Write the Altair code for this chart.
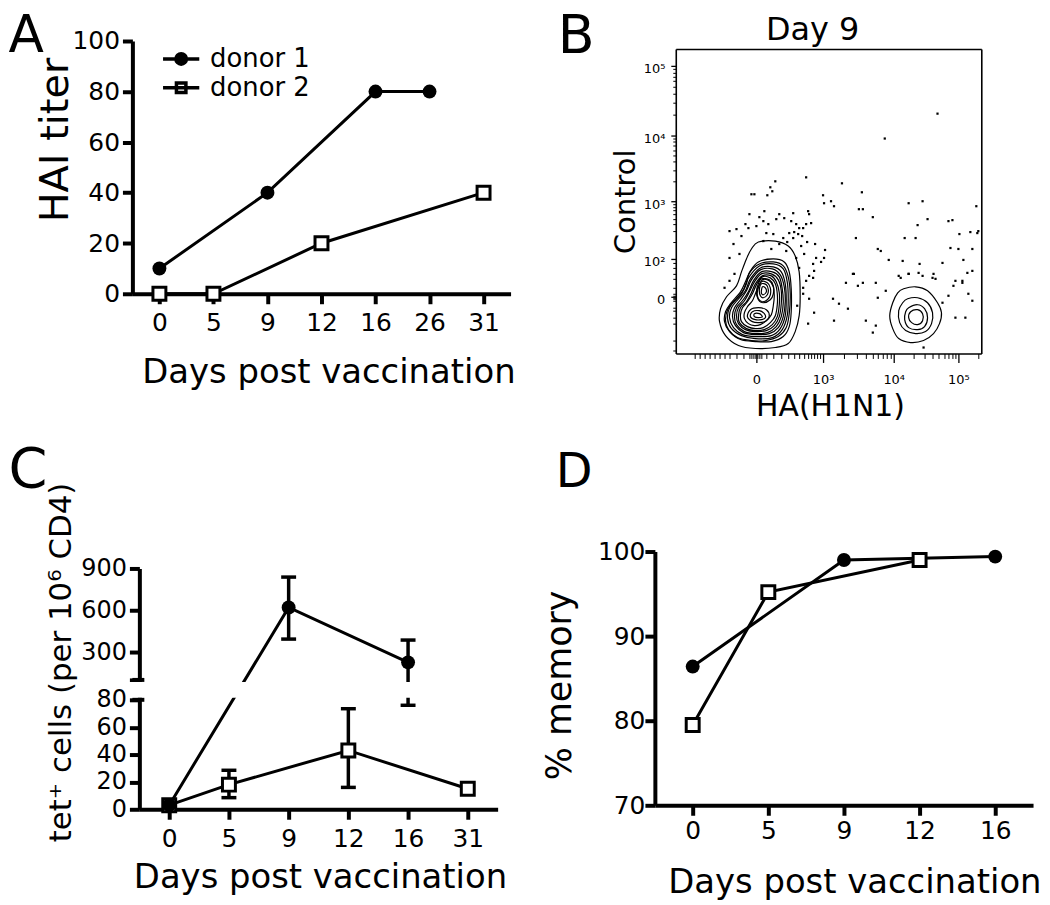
import altair as alt
import pandas as pd

FONT = "DejaVu Sans"
OFF = 8            # page margin; layout numbers below are page pixels
W, H = 1034, 889   # drawing area


def L(v):
    return v - OFF


def lab_expr(vals, labs):
    expr = "''"
    for v, t in reversed(list(zip(vals, labs))):
        expr = f"abs(datum.value - {v}) < 0.01 ? '{t}' : ({expr})"
    return expr


def text_axis(text, size, x, y, orient="top", offset=0, align="left", domain=False):
    return alt.Axis(orient=orient, offset=offset, domain=domain, domainWidth=1.6,
                    ticks=False, labels=False, grid=False, title=text, titleFontSize=size,
                    titleX=x, titleY=y, titleAlign=align, titleAngle=0,
                    titleBaseline="alphabetic")


def thick_axis(orient, offset, title, tfs, tx, ty, angle, lfs=25, lpad=3,
               values=None, expr=None):
    kw = dict(orient=orient, offset=offset, domainWidth=4, tickWidth=4, tickSize=10,
              labelFontSize=lfs, labelPadding=lpad, labelOverlap=False, labelFlush=False,
              grid=False, title=title, titleFontSize=tfs, titleX=tx, titleY=ty,
              titleAngle=angle, titleAlign="center", titleBaseline="alphabetic", zindex=0)
    if values is not None:
        kw["values"] = values
    if expr is not None:
        kw["labelExpr"] = expr
    if orient == "bottom":
        kw["labelAngle"] = 0
    return alt.Axis(**kw)


# ---------------- data: panel A ----------------
a_days = [0, 5, 9, 12, 16, 26, 31]
a_d1_days = [0, 9, 16, 26]
a_d1_titer = [10, 40, 80, 80]
a_d2_days = [0, 5, 12, 31]
a_d2_titer = [0, 0, 20, 40]
a_yticks = [0, 20, 40, 60, 80, 100]
donors = ["donor 1", "donor 2"]

# ---------------- data: panel B (display channel units) ----------------
b_x_ticks = [81, 148, 219, 284]
b_x_labels = ["0", "10³", "10⁴", "10⁵"]
b_y_ticks = [57, 95, 153, 219, 289]
b_y_labels = ["0", "10²", "10³", "10⁴", "10⁵"]
b_x_minor = [19, 24, 29, 34, 39, 44, 49, 54, 61, 68, 74, 76, 78, 80, 82, 84, 86, 91, 98, 106,
             113, 119, 124, 129, 133, 136, 139, 142, 145, 169.4, 181.9, 190.7, 197.6, 203.2,
             208, 212.1, 215.7, 238.6, 250, 258.1, 264.4, 269.6, 273.9, 277.7, 281, 303.6]
b_y_minor = [3, 13, 30, 36, 43, 46, 53, 55, 56.5, 58.5, 60, 66, 75, 80, 86, 91, 112.5, 122.7,
             129.9, 135.5, 140.1, 144, 147.4, 150.3, 172.9, 184.5, 192.7, 199.1, 204.4, 208.8,
             212.6, 216, 240.1, 252.4, 261.1, 267.9, 273.5, 278.2, 282.2, 285.8]
b_dot_x = [263, 210, 131, 100, 167, 95, 97, 76, 79, 92, 187, 148, 156, 149, 159, 133, 184, 188,
           74, 89, 84, 104, 109, 134, 198, 253, 274, 278, 302, 248, 234, 54, 61, 73, 81, 88, 93,
           101, 116, 121, 124, 128, 131, 136, 114, 119, 123, 118, 108, 98, 91, 66, 181, 203, 206,
           214, 228, 230, 241, 243, 245, 285, 296, 303, 276, 284, 298, 289, 298, 293, 268, 259,
           248, 234, 224, 141, 149, 146, 138, 139, 134, 131, 121, 124, 54, 64, 54, 179, 171, 188,
           201, 281, 288, 261, 88, 104, 111, 96, 59, 128, 138, 134, 139, 133, 158, 164, 159, 173,
           178, 183, 191, 198, 201, 203, 211, 226, 234, 244, 258, 268, 274, 279, 288, 294, 291,
           281, 298, 249, 49, 304, 126, 129, 112, 70, 58, 118, 127, 132, 128, 122, 140, 150]
b_dot_y = [241, 216, 177, 173, 171, 167, 163, 160, 160, 159, 162, 159, 153, 151, 148, 143, 145,
           145, 140, 143, 137, 140, 136, 140, 137, 135, 133, 134, 148, 153, 151, 123, 125, 126,
           128, 133, 130, 135, 133, 130, 126, 126, 130, 131, 121, 122, 120, 116, 116, 120, 121,
           118, 116, 105, 103, 94, 93, 116, 116, 129, 90, 120, 122, 121, 106, 105, 105, 94, 83,
           81, 91, 80, 78, 80, 78, 96, 96, 92, 90, 83, 78, 73, 96, 86, 96, 100, 73, 80, 71, 71,
           71, 73, 71, 75, 113, 110, 103, 105, 80, 66, 76, 55, 41, 30, 55, 50, 33, 45, 80, 68, 33,
           21, 28, 56, 63, 76, 80, 81, 76, 51, 58, 68, 73, 60, 36, 36, 53, 6, 66, 123, 108, 100,
           112, 130, 110, 141, 118, 112, 60, 48, 110, 104]
b_left_contours = [
    [(83, 112), (100, 113), (113, 108), (120, 98), (124, 82), (125, 58), (124, 38), (120, 22),
     (113, 10), (100, 6), (80, 5), (63, 8), (50, 18), (44, 32), (45, 45), (51, 57), (61, 68),
     (66, 82), (71, 95), (76, 105)],
    [(83, 92), (98, 95), (109, 92), (114, 82), (116, 65), (116, 42), (114, 27), (108, 17),
     (96, 12), (80, 12), (65, 14), (54, 22), (49, 32), (50, 42), (55, 50), (65, 62), (70, 72),
     (75, 83)],
    [(84, 90), (98, 92), (108, 88), (113, 77), (115, 60), (114, 40), (111, 26), (103, 17),
     (90, 13), (76, 13), (62, 16), (53, 24), (50, 33), (52, 44), (58, 52), (66, 60), (71, 70),
     (74, 81)],
    [(84, 88), (98, 90), (108, 85), (112, 72), (113, 55), (112, 38), (107, 24), (97, 16),
     (80, 15), (66, 18), (56, 25), (52, 35), (54, 46), (61, 55), (68, 64), (73, 76)],
    [(85, 86), (98, 87), (106, 82), (110, 70), (111, 54), (110, 38), (105, 25), (96, 18),
     (80, 17), (67, 19), (58, 26), (54, 36), (56, 46), (63, 55), (70, 63), (75, 75)],
    [(85, 84), (97, 85), (105, 79), (109, 67), (110, 52), (108, 37), (103, 26), (94, 20),
     (80, 19), (68, 21), (60, 28), (57, 37), (59, 46), (65, 54), (71, 63), (76, 74)],
    [(86, 82), (97, 82), (104, 77), (107, 65), (108, 51), (106, 37), (101, 27), (92, 21),
     (80, 20), (69, 22), (61, 29), (59, 37), (61, 46), (67, 53), (73, 62), (78, 73)],
    [(86, 80), (96, 80), (103, 74), (106, 63), (106, 50), (104, 37), (99, 28), (91, 23),
     (80, 22), (70, 24), (63, 30), (61, 38), (63, 46), (69, 53), (74, 62), (79, 72)],
    [(87, 78), (96, 78), (101, 72), (104, 61), (104, 49), (102, 37), (97, 29), (89, 24),
     (80, 23), (71, 25), (64, 31), (63, 38), (65, 46), (71, 52), (76, 61), (80, 70)],
    [(87, 77), (95, 76), (100, 70), (102, 60), (102, 49), (100, 38), (95, 31), (88, 26),
     (80, 25), (72, 27), (66, 32), (65, 39), (67, 46), (72, 52), (77, 60), (81, 69)],
    [(87, 74), (94, 73), (98, 67), (99, 58), (98, 48), (96, 39), (91, 33), (85, 29), (79, 28),
     (73, 30), (69, 35), (69, 41), (72, 47), (77, 53), (80, 60), (83, 67)],
    [(86, 75), (94, 74), (98, 68), (98, 60), (95, 54), (88, 51), (83, 54), (81, 62), (83, 70)],
    [(86, 72), (92, 71), (95, 66), (95, 59), (92, 54), (87, 52), (83, 55), (82, 62)],
    [(75, 44), (83, 46), (91, 44), (94, 38), (91, 33), (84, 31), (77, 32), (72, 37)],
    [(86, 70), (91, 69), (93, 64), (92, 59), (88, 56), (85, 58), (84, 64)],
    [(77, 42), (84, 43), (89, 40), (90, 36), (86, 34), (80, 34), (75, 37)],
    [(87, 67), (90, 66), (91, 62), (88, 59), (86, 61)],
    [(79, 40), (84, 40), (87, 37), (83, 36), (79, 37)],
]
b_right_contours = [
    [(229, 65), (241, 67), (253, 63), (263, 51), (267, 41), (265, 30), (259, 20), (249, 13),
     (236, 11), (224, 15), (218, 25), (215, 38), (218, 51), (223, 61)],
    [(233, 55), (243, 56), (253, 51), (258, 41), (257, 30), (251, 22), (241, 20), (231, 23),
     (225, 31), (224, 43), (228, 51)],
    [(234, 46), (243, 49), (250, 45), (253, 36), (250, 27), (243, 24), (234, 26), (230, 34),
     (231, 42)],
    [(236, 42), (243, 44), (248, 40), (248, 33), (243, 29), (237, 31), (234, 36)],
]

# ---------------- data: panel C ----------------
c_days = [0, 5, 9, 12, 16, 31]
c_d1_days = [0, 9, 16]
c_d1_mean = [3, 620, 226]
c_d1_lo = [3, 393, 76]
c_d1_hi = [3, 838, 386]
c_d2_days = [0, 5, 12, 31]
c_d2_mean = [3, 18, 43, 15]
c_d2_lo = [3, 8.5, 16, 15]
c_d2_hi = [3, 28.5, 73.5, 15]
c_ytick_vals = [0, 20, 40, 60, 80, 100, 300, 600, 900]
c_ytick_labels = ["0", "20", "40", "60", "80", "", "300", "600", "900"]
c_low_max, c_high_min, c_high_max = 80, 100, 900
c_low_len, c_gap_len, c_high_len = 110, 20, 112   # broken-axis segment lengths


def brk(v):
    if v <= c_low_max:
        return v / c_low_max * c_low_len
    return c_low_len + c_gap_len + (v - c_high_min) / (c_high_max - c_high_min) * c_high_len


# ---------------- data: panel D ----------------
d_days = [0, 5, 9, 12, 16]
d_d1_days = [0, 9, 16]
d_d1_mem = [86.4, 99.0, 99.4]
d_d2_days = [0, 5, 12]
d_d2_mem = [79.5, 95.2, 99.0]

# ================= panel A =================
dfA = pd.DataFrame({"donor": ["donor 1"] * len(a_d1_days) + ["donor 2"] * len(a_d2_days),
                    "day": a_d1_days + a_d2_days, "val": a_d1_titer + a_d2_titer})
xA = alt.Scale(type="point", domain=a_days, range=[L(133), L(513)], padding=0.5)
yA = alt.Scale(domain=[0, 100], range=[L(293), L(39)], nice=False, zero=False)
axA_x = thick_axis("bottom", L(293) - H, "Days post vaccination", 34, L(330), 89, 0, lpad=7)
axA_y = thick_axis("left", -L(133), "HAI titer", 40, 68 - 133, L(138), 270, values=a_yticks)

SQ = dict(shape="square", filled=True, fill="white", stroke="black", strokeWidth=3, size=169, opacity=1)
CI = dict(shape="circle", filled=True, color="black", size=196, opacity=1)

lineA = alt.Chart(dfA).mark_line(color="black", strokeWidth=3).encode(
    x=alt.X("day:O", scale=xA, axis=axA_x), y=alt.Y("val:Q", scale=yA, axis=axA_y),
    detail="donor:N")
sqA = alt.Chart(dfA).transform_filter("datum.donor == 'donor 2'").mark_point(**SQ).encode(
    x=alt.X("day:O", scale=xA, axis=None), y=alt.Y("val:Q", scale=yA, axis=None))
ciA = alt.Chart(dfA).transform_filter("datum.donor == 'donor 1'").mark_point(**CI).encode(
    x=alt.X("day:O", scale=xA, axis=text_axis("A", 52, 0, L(50))),
    y=alt.Y("val:Q", scale=yA, axis=None))

sym1 = "M-1.3,0H1.3M0.375,0A0.375,0.375,0,1,1,-0.375,0A0.375,0.375,0,1,1,0.375,0Z"
sym2 = "M-1.3,0H1.3M-0.34,-0.34H0.34V0.34H-0.34Z"
legA_def = alt.Legend(title=None, orient="none", legendX=L(166), legendY=L(41),
                      direction="vertical", labelFont=FONT, labelFontSize=26,
                      labelColor="black", symbolSize=784, symbolStrokeWidth=3.5,
                      symbolOpacity=1, labelOffset=13, rowPadding=0, padding=0)
legA = alt.Chart(dfA).transform_filter("false").mark_point(
    filled=True, strokeWidth=3.5, opacity=1).encode(
    shape=alt.Shape("donor:N", scale=alt.Scale(domain=donors, range=[sym1, sym2]), legend=legA_def),
    fill=alt.Fill("donor:N", scale=alt.Scale(domain=donors, range=["black", "white"]), legend=legA_def),
    stroke=alt.Stroke("donor:N", scale=alt.Scale(domain=donors, range=["black", "black"]), legend=legA_def))

# ================= panel B =================
dfDots = pd.DataFrame({"x": b_dot_x, "y": b_dot_y})


def contour_df(contours):
    rows = []
    for cid, pts in enumerate(contours):
        for i, (x, y) in enumerate(pts):
            rows.append({"cid": cid, "i": i, "x": x, "y": y})
    return pd.DataFrame(rows)


dfLC = contour_df(b_left_contours)
dfRC = contour_df(b_right_contours)
xB = alt.Scale(domain=[0, 307], range=[L(679), L(986)], nice=False, zero=False)
yB = alt.Scale(domain=[0, 306], range=[L(353), L(47)], nice=False, zero=False)
axB_x = alt.Axis(orient="bottom", offset=L(353) - H, values=b_x_ticks,
                 labelExpr=lab_expr(b_x_ticks, b_x_labels), labelFontSize=13, labelPadding=11,
                 labelAngle=0, tickSize=9, tickWidth=1.3, domainWidth=1.6, labelOverlap=False,
                 labelFlush=False, grid=False, title="HA(H1N1)", titleFontSize=30,
                 titleX=L(834), titleY=62, titleAlign="center", titleBaseline="alphabetic",
                 titleAngle=0)
axB_y = alt.Axis(orient="left", offset=-L(679), values=b_y_ticks,
                 labelExpr=lab_expr(b_y_ticks, b_y_labels), labelFontSize=13, labelPadding=6,
                 labelOffset=3, tickSize=5, tickWidth=1.3, domainWidth=1.6, labelOverlap=False,
                 labelFlush=False, grid=False, title="Control", titleFontSize=29,
                 titleX=638 - 679, titleY=L(200), titleAngle=270, titleAlign="center",
                 titleBaseline="alphabetic")
axB_xm = alt.Axis(orient="bottom", offset=L(353) - H, values=b_x_minor, labels=False,
                  tickSize=5, tickWidth=1, domain=False, grid=False, title=None)
axB_ym = alt.Axis(orient="left", offset=-L(679), values=b_y_minor, labels=False,
                  tickSize=3, tickWidth=1, domain=False, grid=False, title=None)
axB_top = text_axis("Day 9", 32, L(816), 37 - 47, orient="top", offset=-L(47),
                    align="center", domain=True)
axB_right = text_axis("B", 54, 560 - 986, L(51), orient="right", offset=L(986) - W,
                      align="left", domain=True)

dotsB = alt.Chart(dfDots).mark_square(size=5, color="black", opacity=1).encode(
    x=alt.X("x:Q", scale=xB, axis=axB_x), y=alt.Y("y:Q", scale=yB, axis=axB_y))
lcB = alt.Chart(dfLC).mark_line(color="black", strokeWidth=1.2, interpolate="cardinal-closed").encode(
    x=alt.X("x:Q", scale=xB, axis=axB_xm), y=alt.Y("y:Q", scale=yB, axis=axB_ym),
    detail="cid:N", order="i:Q")
rcB = alt.Chart(dfRC).mark_line(color="black", strokeWidth=1.2, interpolate="cardinal-closed").encode(
    x=alt.X("x:Q", scale=xB, axis=axB_top), y=alt.Y("y:Q", scale=yB, axis=axB_right),
    detail="cid:N", order="i:Q")

# ================= panel C =================
dfC = pd.DataFrame({"donor": ["donor 1"] * len(c_d1_days) + ["donor 2"] * len(c_d2_days),
                    "day": c_d1_days + c_d2_days, "mean": c_d1_mean + c_d2_mean,
                    "lo": c_d1_lo + c_d2_lo, "hi": c_d1_hi + c_d2_hi})
dfC["yd"] = dfC["mean"].map(brk)
dfC["lo_d"] = dfC["lo"].map(brk)
dfC["hi_d"] = dfC["hi"].map(brk)
dfErr = dfC[dfC["hi"] > dfC["lo"]]
dfCaps = pd.concat([dfErr[["day", "lo_d"]].rename(columns={"lo_d": "yd"}),
                    dfErr[["day", "hi_d"]].rename(columns={"hi_d": "yd"})])
dfMask = pd.DataFrame({"m0": [brk(c_low_max) + 2], "m1": [brk(c_high_min) - 2]})
dfBrk = pd.DataFrame({"yd": [brk(c_low_max), brk(c_high_min)]})
c_top = brk(c_high_max)
xC = alt.Scale(type="point", domain=c_days, range=[L(140), L(500)], padding=0.5)
yC = alt.Scale(domain=[0, c_top], range=[L(811), L(569)], nice=False, zero=False)
c_tick_pos = [brk(v) for v in c_ytick_vals]
axC_x = thick_axis("bottom", L(811) - H, "Days post vaccination", 34, L(321.5), 79, 0, lpad=7)
axC_y = thick_axis("left", -L(140), "tet⁺ cells (per 10⁶ CD4)", 31, 71 - 140, L(663), 270,
                   lfs=24, values=c_tick_pos, expr=lab_expr(c_tick_pos, c_ytick_labels))

lineC = alt.Chart(dfC).mark_line(color="black", strokeWidth=3).encode(
    x=alt.X("day:O", scale=xC, axis=axC_x), y=alt.Y("yd:Q", scale=yC, axis=axC_y),
    detail="donor:N")
errC = alt.Chart(dfErr).mark_rule(color="black", strokeWidth=3.5).encode(
    x=alt.X("day:O", scale=xC, axis=None), y=alt.Y("lo_d:Q", scale=yC, axis=None),
    y2="hi_d:Q")
maskC = alt.Chart(dfMask).mark_rect(color="white", opacity=1).encode(
    x=alt.value(L(128)), x2=alt.value(L(500)),
    y=alt.Y("m0:Q", scale=yC, axis=None), y2="m1:Q")
capC = alt.Chart(dfCaps).mark_tick(orient="horizontal", color="black", size=15, thickness=3.5,
                                   opacity=1).encode(
    x=alt.X("day:O", scale=xC, axis=None), y=alt.Y("yd:Q", scale=yC, axis=None))
sqC = alt.Chart(dfC).transform_filter("datum.donor == 'donor 2'").mark_point(**SQ).encode(
    x=alt.X("day:O", scale=xC, axis=None), y=alt.Y("yd:Q", scale=yC, axis=None))
ciC = alt.Chart(dfC).transform_filter("datum.donor == 'donor 1'").mark_point(**CI).encode(
    x=alt.X("day:O", scale=xC, axis=text_axis("C", 56, 0, L(487))),
    y=alt.Y("yd:Q", scale=yC, axis=None))
brkC = alt.Chart(dfBrk).mark_tick(orient="horizontal", color="black", size=12, thickness=4,
                                  opacity=1).encode(
    x=alt.value(L(139)), y=alt.Y("yd:Q", scale=yC, axis=None))

# ================= panel D =================
dfD = pd.DataFrame({"donor": ["donor 1"] * len(d_d1_days) + ["donor 2"] * len(d_d2_days),
                    "day": d_d1_days + d_d2_days, "val": d_d1_mem + d_d2_mem})
xD = alt.Scale(type="point", domain=d_days, range=[L(658), L(1038)], padding=0.5)
yD = alt.Scale(domain=[70, 100], range=[L(807), L(552)], nice=False, zero=False)
axD_x = thick_axis("bottom", L(807) - H, "Days post vaccination", 34, L(858.5), 88, 0, lpad=3)
axD_y = thick_axis("left", -L(658), "% memory", 35, 573 - 658, L(686), 270, lpad=0,
                   values=[70, 80, 90, 100])
lineD = alt.Chart(dfD).mark_line(color="black", strokeWidth=3).encode(
    x=alt.X("day:O", scale=xD, axis=axD_x), y=alt.Y("val:Q", scale=yD, axis=axD_y),
    detail="donor:N")
sqD = alt.Chart(dfD).transform_filter("datum.donor == 'donor 2'").mark_point(**SQ).encode(
    x=alt.X("day:O", scale=xD, axis=None), y=alt.Y("val:Q", scale=yD, axis=None))
ciD = alt.Chart(dfD).transform_filter("datum.donor == 'donor 1'").mark_point(**CI).encode(
    x=alt.X("day:O", scale=xD, axis=text_axis("D", 48, L(558), L(487))),
    y=alt.Y("val:Q", scale=yD, axis=None))

chart = alt.layer(
    lineA, sqA, ciA, legA,
    dotsB, lcB, rcB,
    lineC, errC, maskC, capC, sqC, ciC, brkC,
    lineD, sqD, ciD,
).resolve_scale(x="independent", y="independent").resolve_axis(
    x="independent", y="independent"
).properties(
    width=W, height=H, padding={"top": 0, "left": 0, "right": 0, "bottom": 0}
).configure_view(stroke="transparent").configure_axis(
    domainColor="black", tickColor="black", labelColor="black", titleColor="black",
    labelFont=FONT, titleFont=FONT, titleFontWeight="normal"
)

chart.save("out.html", embed_options={"renderer": "svg", "actions": False})
